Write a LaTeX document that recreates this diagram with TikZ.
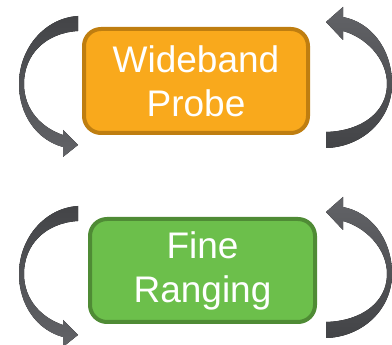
\documentclass[tikz,border=0pt]{standalone}
\usepackage{fontspec}
\setmainfont{Liberation Sans}
\definecolor{orfill}{HTML}{F9A91C}
\definecolor{ordraw}{HTML}{BF7E10}
\definecolor{grfill}{HTML}{6CBF4B}
\definecolor{grdraw}{HTML}{4F8B35}
\definecolor{arrdark}{HTML}{434447}
\definecolor{arrlight}{HTML}{626367}
\tikzset{
  stagebox/.style={rounded corners=17pt, line width=4pt, inner sep=0pt,
    text=white, align=center, font=\fontsize{37}{44}\selectfont},
  loopL/.style={top color=arrdark, bottom color=arrlight, draw=none},
  loopR/.style={top color=arrlight, bottom color=arrdark, draw=none},
}
\begin{document}
\begin{tikzpicture}[x=1pt,y=-1pt]
\useasboundingbox (0,0) rectangle (392,345);
% boxes
\node[stagebox, draw=ordraw, fill=orfill, minimum width=224pt, minimum height=104pt] (wp) at (196,81) {Wideband\\Probe};
\node[stagebox, draw=grdraw, fill=grfill, minimum width=225pt, minimum height=103pt] (fr) at (202.5,270.5) {Fine\\Ranging};
% loop arrows
\foreach \dy in {0,190}{
\begin{scope}[shift={(0,\dy)}]
\fill[loopL] (78,16) -- (78,31) .. controls (45,33) and (24,55) .. (24,84)
  .. controls (24,110) and (42,128) .. (63,135) -- (63,130) -- (78,145) -- (63,157) -- (63,147)
  .. controls (37,140) and (19,115) .. (19,84) .. controls (19,48) and (45,18) .. (78,16) -- cycle;
\fill[loopR] (326,132) -- (326,148) .. controls (362,147) and (392,120) .. (392,84)
  .. controls (392,48) and (370,22) .. (343,17) -- (343,7) -- (326,22) -- (343,40) -- (343,31)
  .. controls (365,37) and (387,58) .. (387,84) .. controls (387,112) and (362,131) .. (326,132) -- cycle;
\end{scope}
}
\end{tikzpicture}
\end{document}
